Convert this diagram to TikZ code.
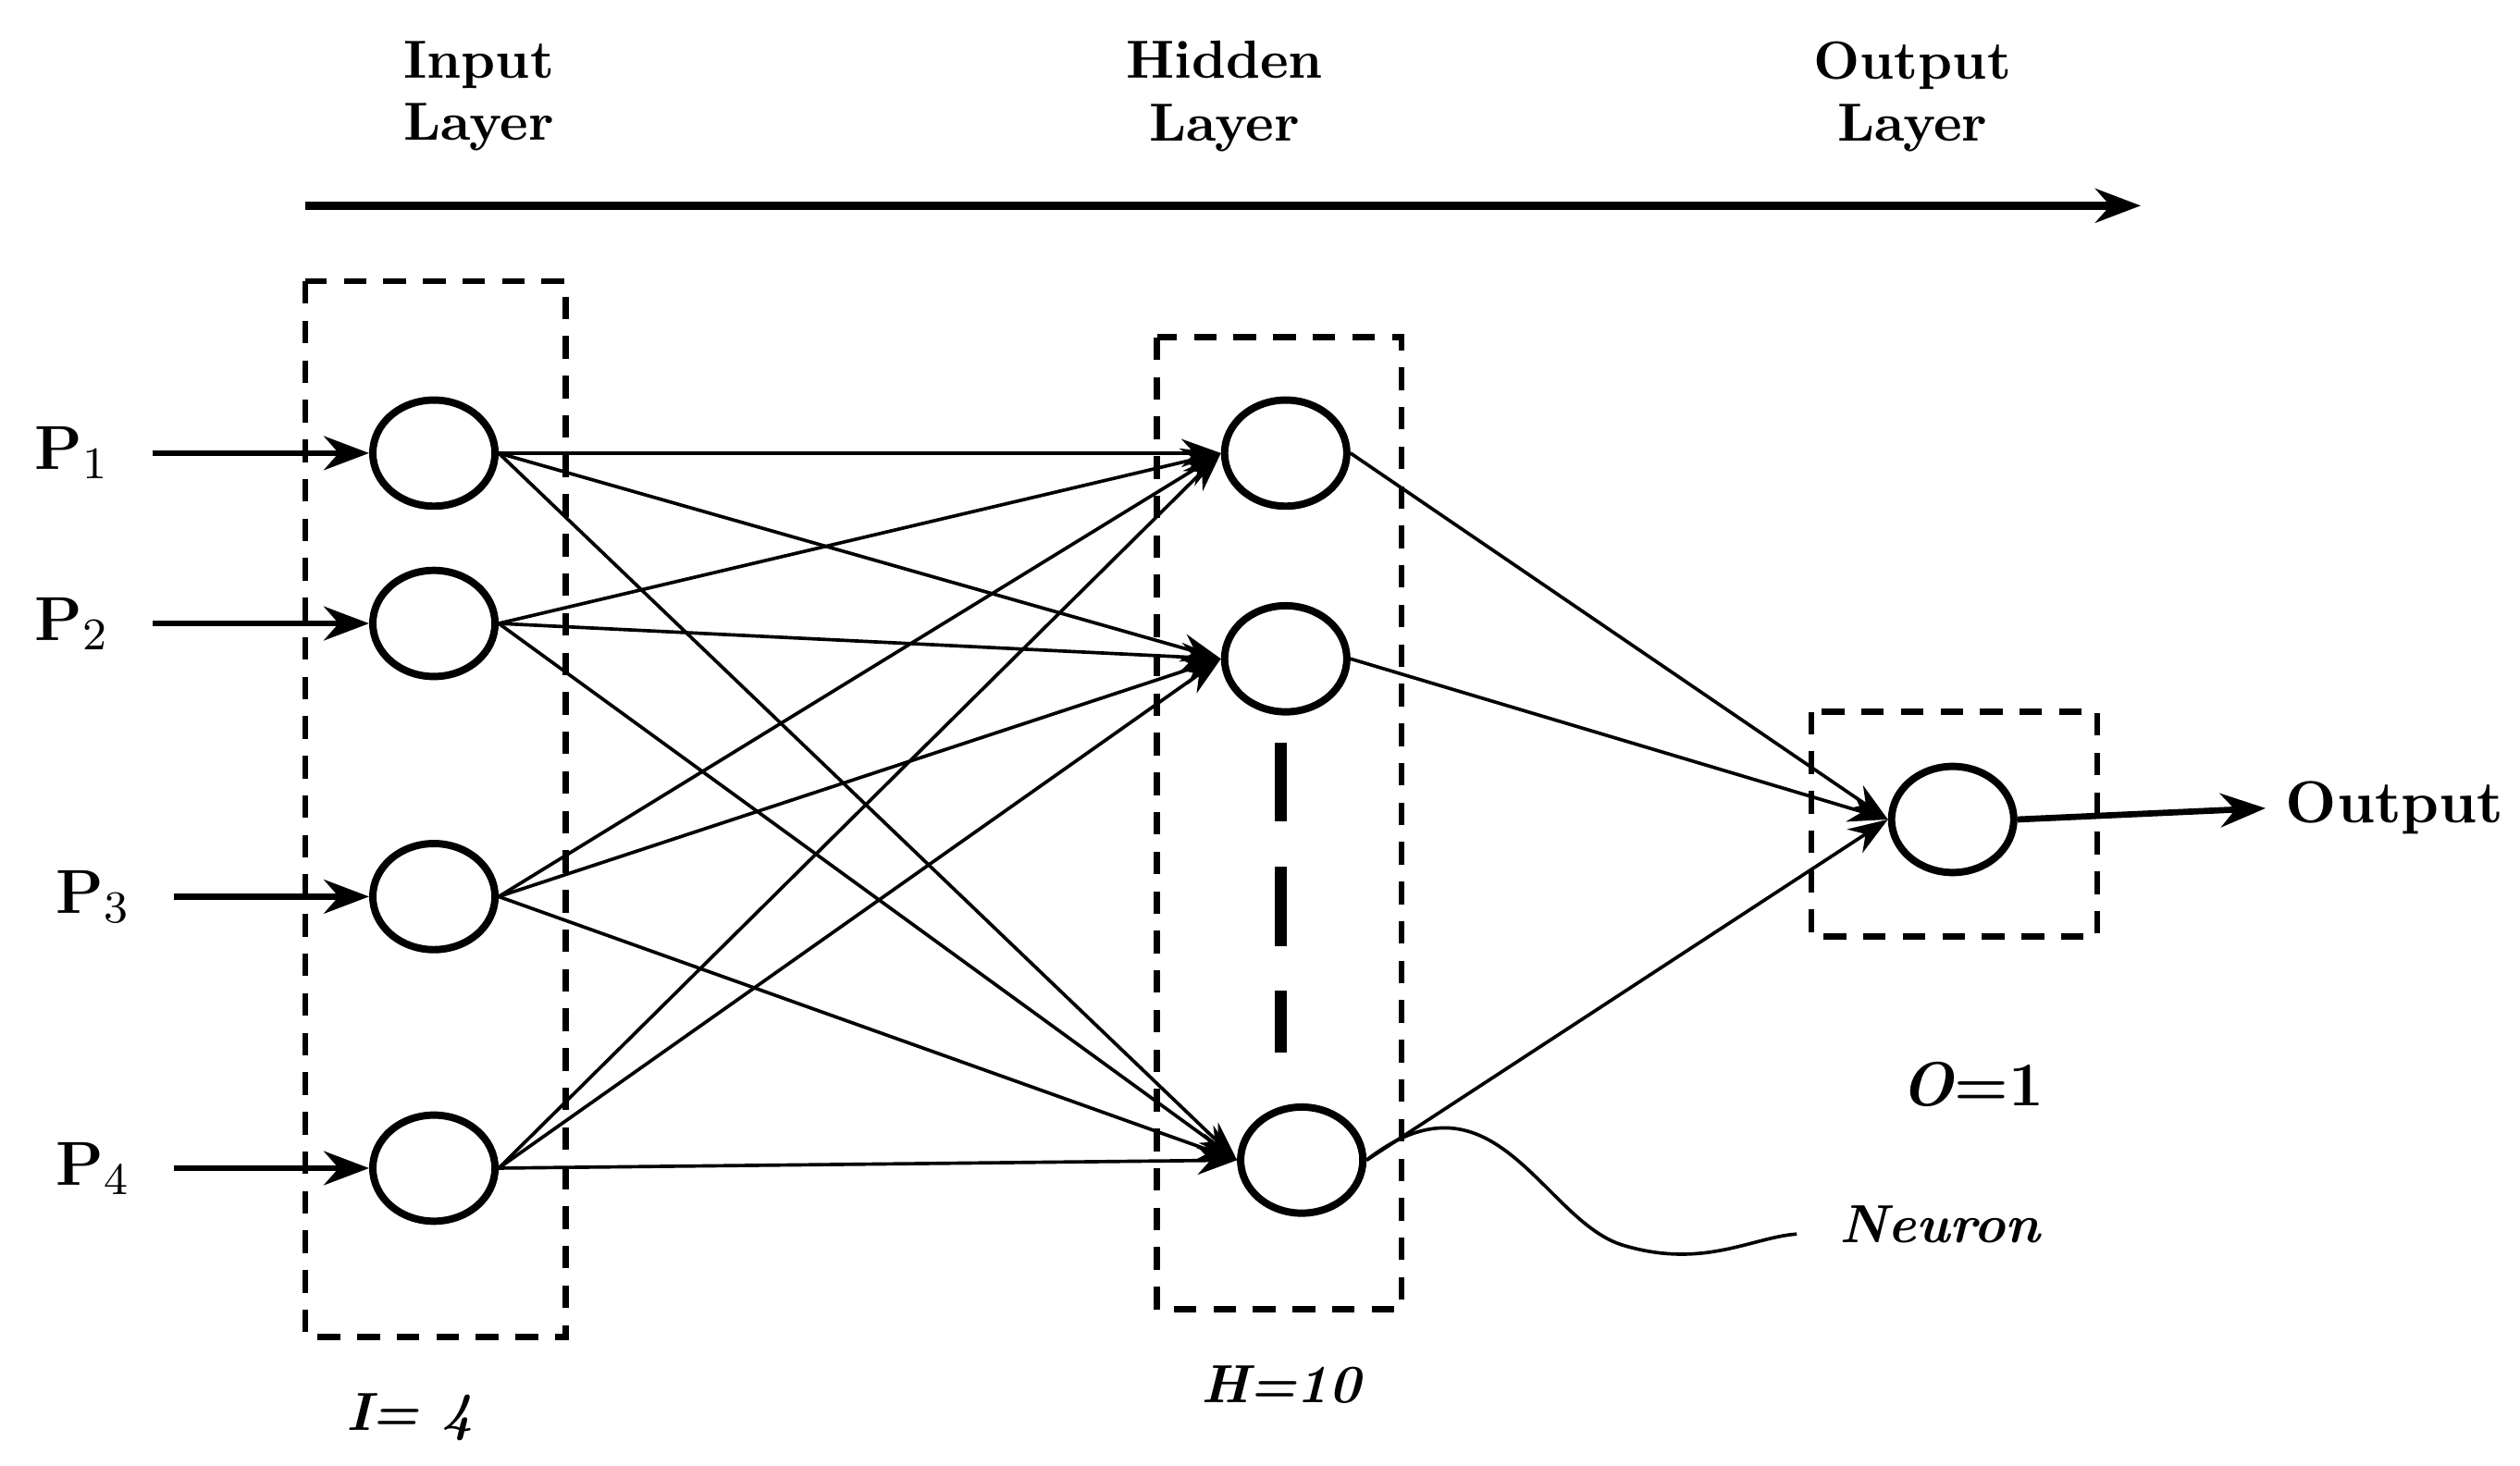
\documentclass[tikz,border=0pt]{standalone}
\usepackage{tikz}
\usetikzlibrary{shapes.geometric, positioning, arrows.meta}

\tikzset{
    neuron/.style={ellipse, draw, line width=1.3pt, minimum width=0.76cm, minimum height=0.66cm},
    layerbox/.style={draw, dashed, line width=1.1pt, dash pattern=on 4pt off 3pt},
    link/.style={->, >={Stealth[length=7pt,width=5pt]}, line width=0.6pt},
    feed/.style={->, >={Stealth[length=8pt,width=6pt]}, line width=1.1pt},
    lbl/.style={font=\fontsize{9.5}{11}\selectfont\bfseries, align=center}
}

\begin{document}
\begin{tikzpicture}[x=0.01cm, y=-0.01cm]
        \useasboundingbox (0,0) rectangle (1568,912);

        % layer titles and flow arrow
        \node[lbl] (tin) at (298,60) {Input\\Layer};
        \node[lbl] (thid) at (762,60) {Hidden\\Layer};
        \node[lbl] (tout) at (1190,60) {Output\\Layer};
        \coordinate (fa) at (190,128);
        \coordinate (fb) at (1332,128);
        \draw[feed, line width=1.5pt] (fa) -- (fb);

        % boxes
        \draw[layerbox] (190,175) rectangle (352,832);
        \draw[layerbox] (720,210) rectangle (872,815);
        \draw[layerbox] (1127,443) rectangle (1305,583);

        % neurons
        \node[neuron] (i1) at (270,282) {};
        \node[neuron] (i2) at (270,388) {};
        \node[neuron] (i3) at (270,558) {};
        \node[neuron] (i4) at (270,727) {};
        \node[neuron] (h1) at (800,282) {};
        \node[neuron] (h2) at (800,410) {};
        \node[neuron] (h3) at (810,722) {};
        \node[neuron] (o) at (1215,510) {};
        \coordinate (d1) at (797,462);
        \coordinate (d2) at (797,655);
        \draw[line width=2.2pt, dash pattern=on 14pt off 8pt] (d1) -- (d2);

        % inputs
        \foreach \k/\y/\x in {1/282/45, 2/388/45, 3/558/58, 4/727/58} {
            \node[font=\fontsize{11}{13}\selectfont\bfseries] (p\k) at (\x,\y) {P$_{\k}$};
            \coordinate (s\k) at (\x+50,\y);
            \draw[feed] (s\k) -- (i\k.west);
        }

        % connections
        \foreach \a in {1,...,4}
            \foreach \b in {1,2,3}
                \draw[link] (i\a.east) -- (h\b.west);
        \foreach \b in {1,2,3}
            \draw[link] (h\b.east) -- (o.west);

        % output
        \node[lbl, font=\fontsize{10.5}{12}\selectfont\bfseries] (out) at (1490,503) {Output};
        \draw[feed] (o.east) -- (out.west);

        % labels
        \node[font=\fontsize{9.5}{11}\selectfont\bfseries\itshape] (li) at (255,882) {I= 4};
        \node[font=\fontsize{9.5}{11}\selectfont\bfseries\itshape] (lh) at (797,862) {H=10};
        \node[font=\fontsize{11}{13}\selectfont\bfseries] (lo) at (1227,675) {\textit{O}=1};
        \node[font=\fontsize{9.5}{11}\selectfont\bfseries\itshape] (ln) at (1207,762) {Neuron};
        \coordinate (nc) at (1118,768);
        \draw[line width=0.6pt] (h3.east) .. controls (930,660) and (960,760) .. (1010,775)
            .. controls (1060,790) and (1090,770) .. (nc);
\end{tikzpicture}
\end{document}
